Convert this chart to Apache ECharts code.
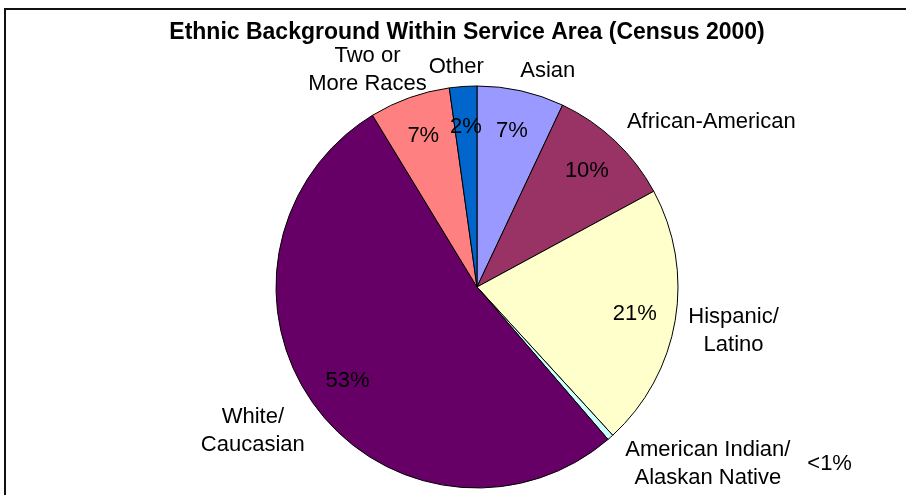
<!DOCTYPE html>
<html><head><meta charset="utf-8">
<script src="https://cdn.jsdelivr.net/npm/echarts@6/dist/echarts.min.js"></script>
<style>html,body{margin:0;padding:0;background:#fff}#c{width:906px;height:495px}</style>
</head><body><div id="c"></div>
<script>
// ---- data ----
const titleText = 'Ethnic Background Within Service Area (Census 2000)';
const categories = ['Asian', 'African-American', 'Hispanic/\nLatino', 'American Indian/\nAlaskan Native', 'White/\nCaucasian', 'Two or\nMore Races', 'Other'];
const values = [7.0, 10.1, 21.1, 0.5, 52.6, 6.5, 2.2];
const pctLabels = ['7%', '10%', '21%', '<1%', '53%', '7%', '2%'];

// ---- styling ----
const colors = ['#9999FF', '#993366', '#FFFFCC', '#CCFFFF', '#660066', '#FF8080', '#0066CC'];
const nameLineLen = [20, 26, 66, 36, 44, 29, 20];
const nameLineLen2 = [-5, -6, -52, -9, -26, -27, -22];
const FONT = '"Liberation Sans", Arial, sans-serif';
const CENTER = [477, 287];
const R = 201;

const baseData = categories.map((c, i) => ({ name: c, value: values[i], itemStyle: { color: colors[i] } }));

const pctData = categories.map((c, i) => {
  const d = { name: c, value: values[i] };
  if (pctLabels[i] === '<1%') {
    d.label = { position: 'outside' };
    d.labelLine = { show: false, length: 36, length2: 173 };
  }
  return d;
});

const nameData = categories.map((c, i) => ({
  name: c, value: values[i],
  labelLine: { show: false, length: nameLineLen[i], length2: nameLineLen2[i] }
}));

const chart = echarts.init(document.getElementById('c'), null, { renderer: 'canvas' });
chart.setOption({
  animation: false,
  backgroundColor: '#fff',
  title: {
    text: titleText,
    left: 462, top: 16, textAlign: 'center',
    textStyle: { fontFamily: FONT, fontWeight: 'bold', fontSize: 23, color: '#000' }
  },
  graphic: [{
    type: 'rect', silent: true, z: -1,
    shape: { x: 5, y: 9, width: 1000, height: 1000 },
    style: { fill: 'none', stroke: '#111', lineWidth: 2 }
  }],
  series: [
    {
      type: 'pie', center: CENTER, radius: [0, R], startAngle: 90, clockwise: true,
      avoidLabelOverlap: false, silent: true, emphasis: { disabled: true },
      label: { show: false }, labelLine: { show: false },
      itemStyle: { borderColor: '#000', borderWidth: 1 },
      data: baseData
    },
    {
      type: 'pie', center: CENTER, radius: [113, R], startAngle: 90, clockwise: true,
      avoidLabelOverlap: false, silent: true, emphasis: { disabled: true },
      itemStyle: { color: 'rgba(0,0,0,0)', borderWidth: 0 },
      label: {
        show: true, position: 'inside', distanceToLabelLine: 0,
        formatter: p => pctLabels[p.dataIndex],
        fontFamily: FONT, fontSize: 22, color: '#000'
      },
      labelLine: { show: false },
      data: pctData
    },
    {
      type: 'pie', center: CENTER, radius: [0, R], startAngle: 90, clockwise: true,
      avoidLabelOverlap: false, silent: true, emphasis: { disabled: true },
      itemStyle: { color: 'rgba(0,0,0,0)', borderWidth: 0 },
      label: {
        show: true, position: 'outside', distanceToLabelLine: 0,
        formatter: p => '{c|' + p.name + '}',
        rich: { c: { align: 'center', fontFamily: FONT, fontSize: 22, lineHeight: 28, color: '#000' } },
        fontFamily: FONT, fontSize: 22, lineHeight: 28, color: '#000'
      },
      labelLine: { show: false },
      data: nameData
    }
  ]
});
</script>
</body></html>
